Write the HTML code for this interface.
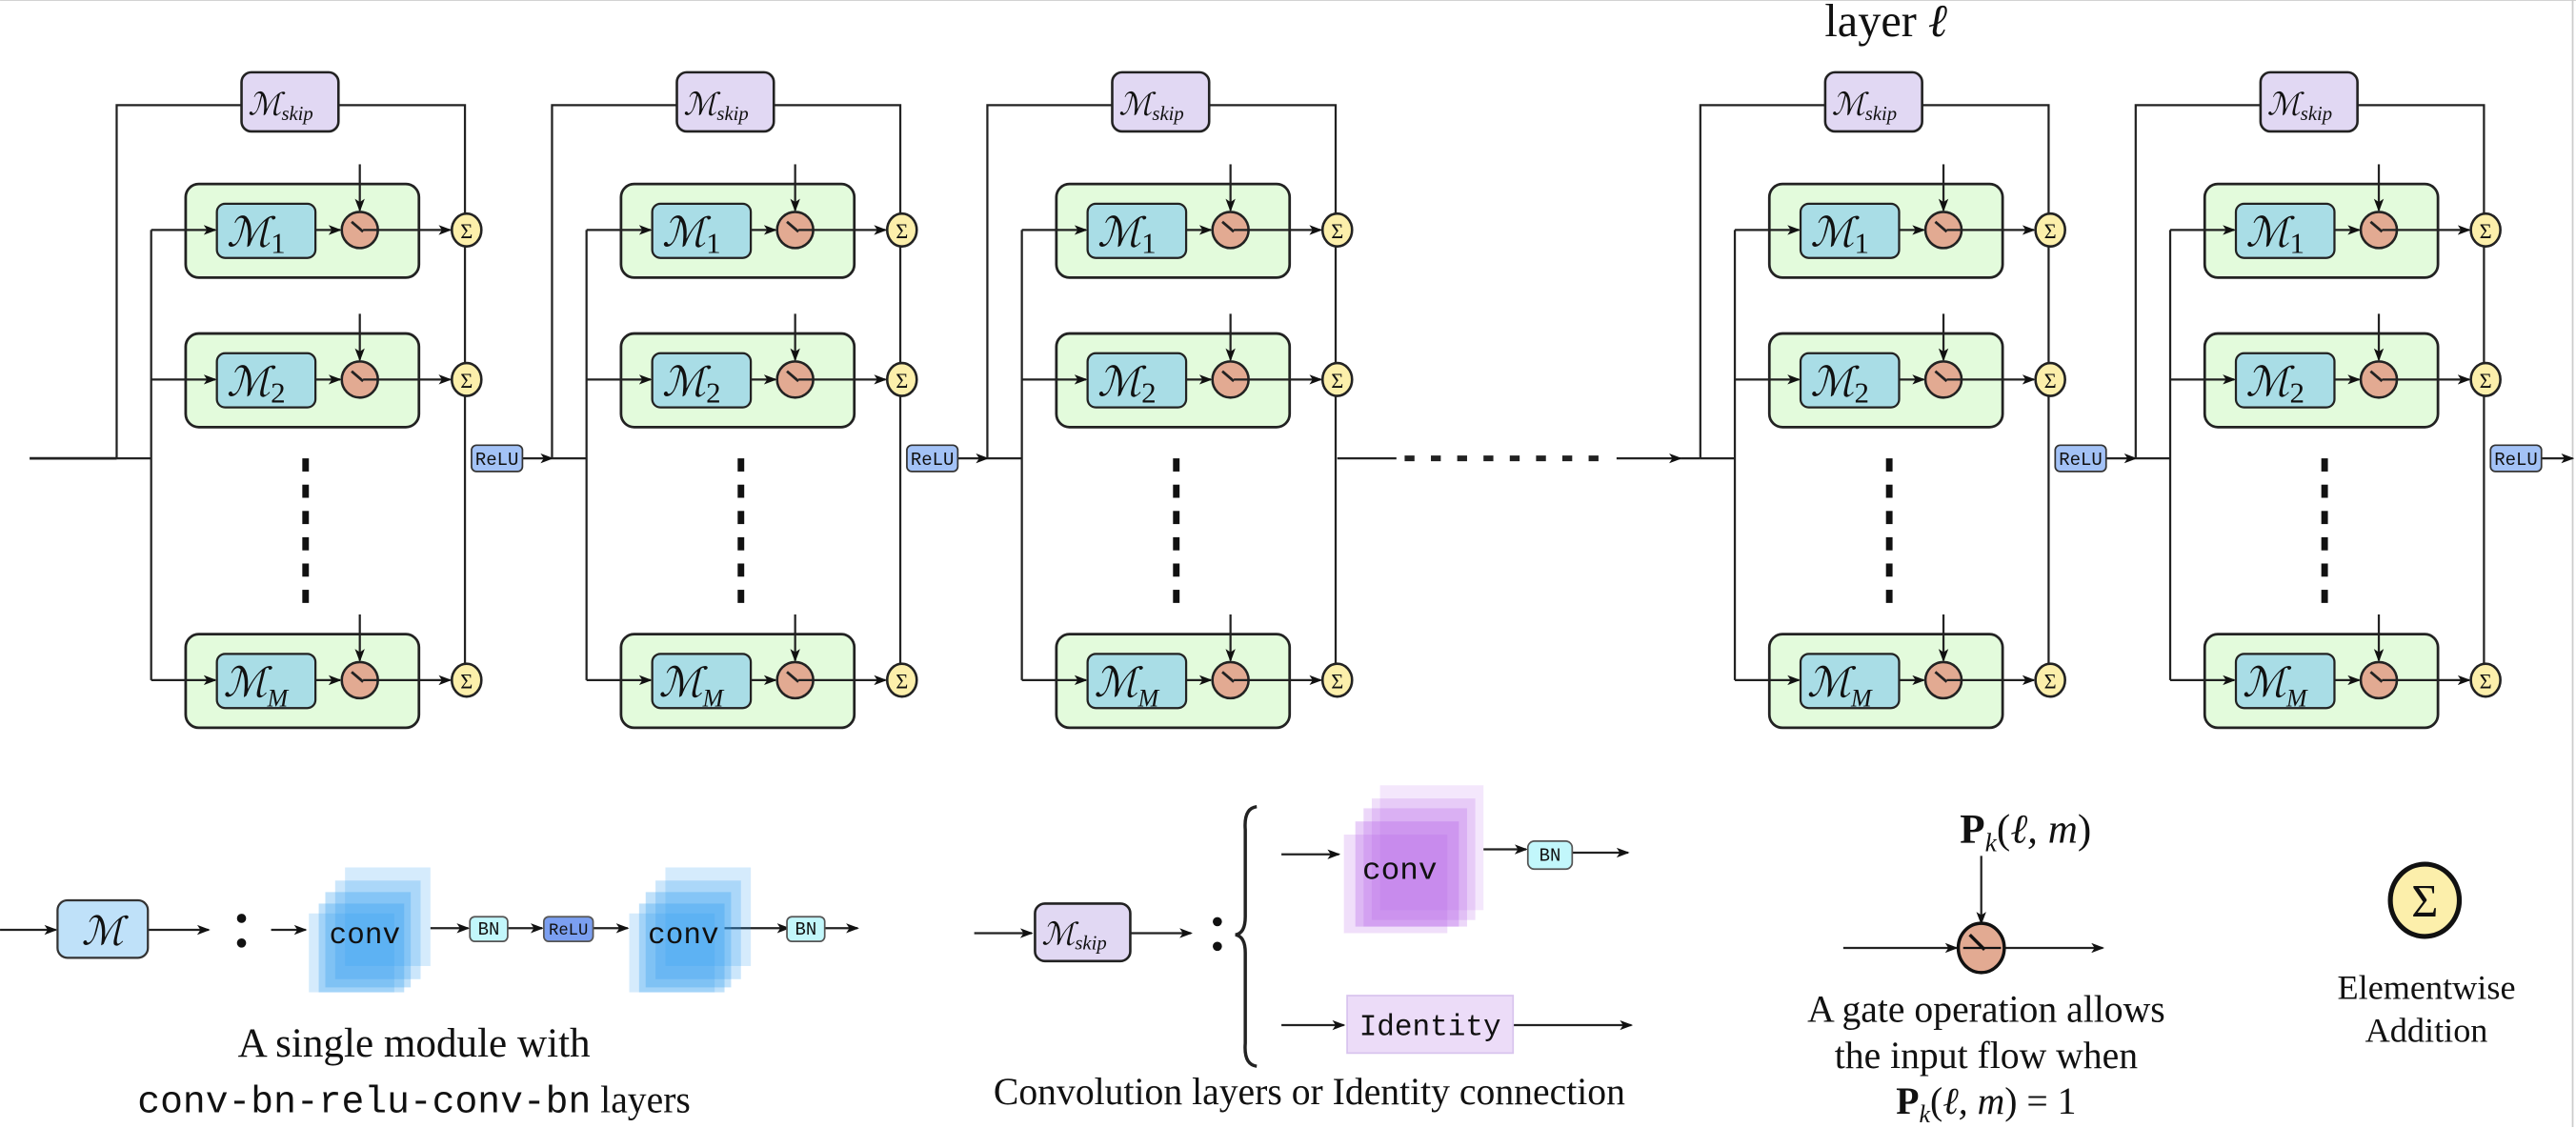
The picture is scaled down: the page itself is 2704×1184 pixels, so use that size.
<!DOCTYPE html>
<html><head><meta charset="utf-8"><style>
html,body{margin:0;padding:0;background:#fff;}
svg{display:block;}
text{font-family:"Liberation Serif","DejaVu Serif",serif;fill:#111;}
.mono{font-family:"Liberation Mono","DejaVu Sans Mono",monospace;}
.m{font-family:"DejaVu Serif","Liberation Serif",serif;font-style:italic;}
</style></head><body>
<svg width="2704" height="1184" viewBox="0 0 1568 686.6" xmlns="http://www.w3.org/2000/svg">
<defs>
<marker id="a" markerWidth="8" markerHeight="8" refX="7" refY="4" orient="auto" markerUnits="userSpaceOnUse">
<path d="M0,1 L8,4 L0,7 L2,4 z" fill="#111"/></marker>
<g id="blk" stroke="#222" stroke-width="1.3" fill="none">
 <polyline points="71,279 71,64 147,64"/>
 <polyline points="206,64 283,64 283,414"/>
 <rect x="147" y="44" width="59" height="36" rx="6" fill="#e1d8f3" stroke-width="1.5"/>
 <line x1="92" y1="140" x2="92" y2="414"/>
 <line x1="71" y1="279" x2="92" y2="279"/>
 <g id="row">
  <rect x="113" y="112" width="142" height="57" rx="8" fill="#e3fbdc" stroke-width="1.6"/>
  <line x1="92" y1="140" x2="131" y2="140" marker-end="url(#a)"/>
  <rect x="132" y="124" width="60" height="33" rx="5" fill="#a9dde6" stroke-width="1.3"/>
  <line x1="192" y1="140" x2="207" y2="140" marker-end="url(#a)"/>
  <line x1="219" y1="100" x2="219" y2="128" marker-end="url(#a)"/>
  <circle cx="219" cy="140" r="11" fill="#e2aa92" stroke-width="1.5"/>
  <line x1="214" y1="135" x2="221" y2="141" stroke-width="1.6"/>
  <line x1="221" y1="140" x2="274" y2="140" marker-end="url(#a)"/>
  <ellipse cx="284" cy="140" rx="9" ry="10" fill="#fcefab" stroke-width="1.5"/>
 </g>
 <use href="#row" y="91"/>
 <use href="#row" y="274"/>
 <g fill="#111" stroke="none">
  <rect x="184" y="279" width="4" height="8"/><rect x="184" y="295" width="4" height="8"/>
  <rect x="184" y="311" width="4" height="8"/><rect x="184" y="327" width="4" height="8"/>
  <rect x="184" y="343" width="4" height="8"/><rect x="184" y="359" width="4" height="8"/>
 </g>
 <g stroke="none">
 <text class="m" x="151" y="70" font-size="19">ℳ<tspan font-size="12" dy="3" font-family="Liberation Serif">skip</tspan></text>
 <text class="m" x="138" y="150" font-size="25">ℳ<tspan font-size="18" dy="4" font-style="normal" font-family="Liberation Serif">1</tspan></text>
 <text class="m" x="138" y="241" font-size="25">ℳ<tspan font-size="18" dy="4" font-style="normal" font-family="Liberation Serif">2</tspan></text>
 <text class="m" x="136" y="424" font-size="25">ℳ<tspan font-size="15" dy="6" font-family="Liberation Serif">M</tspan></text>
 <text x="284" y="145" font-size="13" text-anchor="middle">Σ</text>
 <text x="284" y="236" font-size="13" text-anchor="middle">Σ</text>
 <text x="284" y="419" font-size="13" text-anchor="middle">Σ</text>
 </g>
</g>
<g id="relu">
 <rect x="287" y="271" width="31" height="16" rx="3" fill="#a3c2f6" stroke="#333" stroke-width="1"/>
 <text class="mono" x="302.5" y="283" font-size="11" text-anchor="middle">ReLU</text>
</g>
</defs>

<line x1="0" y1="0" x2="1568" y2="0" stroke="#ccc"/>
<line x1="1566" y1="0" x2="1566" y2="686" stroke="#ccc"/>
<g stroke="#222" stroke-width="1.3" fill="none">
 <line x1="18" y1="279" x2="71" y2="279" stroke-width="1.6"/>
 <line x1="318" y1="279" x2="336" y2="279" marker-end="url(#a)"/>
 <line x1="583" y1="279" x2="601" y2="279" marker-end="url(#a)"/>
 <line x1="814" y1="279" x2="850" y2="279"/>
 <line x1="855" y1="279" x2="980" y2="279" stroke-width="3.5" stroke-dasharray="6,10"/>
 <line x1="984" y1="279" x2="1023" y2="279" marker-end="url(#a)"/>
 <line x1="1023" y1="279" x2="1035" y2="279"/>
 <line x1="1282" y1="279" x2="1300" y2="279" marker-end="url(#a)"/>
 <line x1="1547" y1="279" x2="1566" y2="279" marker-end="url(#a)"/>
</g>
<use href="#blk"/>
<use href="#blk" x="265"/>
<use href="#blk" x="530"/>
<use href="#blk" x="964"/>
<use href="#blk" x="1229"/>
<use href="#relu"/>
<use href="#relu" x="265"/>
<use href="#relu" x="964"/>
<use href="#relu" x="1229"/>
<text x="1148" y="22" font-size="28" text-anchor="middle">layer <tspan font-style="italic">ℓ</tspan></text>

<g stroke="#222" stroke-width="1.3" fill="none">
 <line x1="0" y1="566" x2="34" y2="566" marker-end="url(#a)"/>
 <line x1="90" y1="566" x2="127" y2="566" marker-end="url(#a)"/>
 <line x1="165" y1="566" x2="186" y2="566" marker-end="url(#a)"/>
 <line x1="262" y1="565" x2="285" y2="565" marker-end="url(#a)"/>
 <line x1="309" y1="565" x2="330" y2="565" marker-end="url(#a)"/>
 <line x1="361" y1="565" x2="382" y2="565" marker-end="url(#a)"/>
 <line x1="441" y1="565" x2="480" y2="565" marker-end="url(#a)"/>
 <line x1="502" y1="565" x2="522" y2="565" marker-end="url(#a)"/>
</g>
<rect x="35" y="548" width="55" height="35" rx="6" fill="#bfe1f9" stroke="#333" stroke-width="1.3"/>
<text class="m" x="62.5" y="575" font-size="24" text-anchor="middle">ℳ</text>
<circle cx="147" cy="559" r="2.8" fill="#111"/><circle cx="147" cy="574" r="2.8" fill="#111"/>
<g fill="#2e9cf0">
 <rect x="210" y="528" width="52" height="60" opacity="0.2"/>
 <rect x="204" y="536" width="52" height="60" opacity="0.25"/>
 <rect x="198" y="543" width="52" height="58" opacity="0.3"/>
 <rect x="194" y="550" width="52" height="54" opacity="0.3"/>
 <rect x="188" y="556" width="52" height="48" opacity="0.2"/>
 <rect x="405" y="528" width="52" height="60" opacity="0.2"/>
 <rect x="399" y="536" width="52" height="60" opacity="0.25"/>
 <rect x="393" y="543" width="52" height="58" opacity="0.3"/>
 <rect x="389" y="550" width="52" height="54" opacity="0.3"/>
 <rect x="383" y="556" width="52" height="48" opacity="0.2"/>
</g>
<text class="mono" x="222" y="574" font-size="18" text-anchor="middle">conv</text>
<text class="mono" x="416" y="574" font-size="18" text-anchor="middle">conv</text>
<rect x="286" y="558" width="23" height="15" rx="3" fill="#c2f7fb" stroke="#555"/>
<text class="mono" x="297.5" y="569" font-size="11" text-anchor="middle">BN</text>
<rect x="331" y="558" width="30" height="15" rx="3" fill="#7b9ff0" stroke="#555"/>
<text class="mono" x="346" y="569" font-size="10" text-anchor="middle">ReLU</text>
<rect x="479" y="558" width="23" height="15" rx="3" fill="#c2f7fb" stroke="#555"/>
<text class="mono" x="490.5" y="569" font-size="11" text-anchor="middle">BN</text>
<text x="252" y="643" font-size="25" text-anchor="middle">A single module with</text>
<text x="252" y="677" font-size="23" text-anchor="middle"><tspan class="mono">conv-bn-relu-conv-bn</tspan> layers</text>

<g stroke="#222" stroke-width="1.3" fill="none">
 <line x1="593" y1="568" x2="628" y2="568" marker-end="url(#a)"/>
 <line x1="688" y1="568" x2="725" y2="568" marker-end="url(#a)"/>
 <line x1="780" y1="520" x2="815" y2="520" marker-end="url(#a)"/>
 <line x1="903" y1="517" x2="929" y2="517" marker-end="url(#a)"/>
 <line x1="957" y1="519" x2="991" y2="519" marker-end="url(#a)"/>
 <line x1="780" y1="624" x2="818" y2="624" marker-end="url(#a)"/>
 <line x1="921" y1="624" x2="993" y2="624" marker-end="url(#a)"/>
 <path d="M765,491 Q757,492 758,505 L758,558 Q758,568 752,569 Q758,570 758,580 L758,635 Q757,648 765,649" stroke-width="2"/>
</g>
<rect x="630" y="550" width="58" height="35" rx="6" fill="#e1d8f3" stroke="#222" stroke-width="1.5"/>
<text class="m" x="634" y="575" font-size="19">ℳ<tspan font-size="12" dy="3" font-family="Liberation Serif">skip</tspan></text>
<circle cx="741" cy="561" r="2.8" fill="#111"/><circle cx="741" cy="576" r="2.8" fill="#111"/>
<g fill="#b35ee8">
 <rect x="840" y="478" width="63" height="76" opacity="0.15"/>
 <rect x="835" y="486" width="63" height="74" opacity="0.2"/>
 <rect x="830" y="492" width="63" height="72" opacity="0.25"/>
 <rect x="825" y="500" width="63" height="64" opacity="0.3"/>
 <rect x="818" y="508" width="63" height="60" opacity="0.2"/>
</g>
<text class="mono" x="852" y="535" font-size="19" text-anchor="middle">conv</text>
<rect x="930" y="512" width="27" height="17" rx="4" fill="#c2f7fb" stroke="#555"/>
<text class="mono" x="943.5" y="524" font-size="11" text-anchor="middle">BN</text>
<rect x="820" y="606" width="101" height="35" fill="#ecdcf8" stroke="#d8c4ee"/>
<text class="mono" x="870.5" y="630" font-size="18" text-anchor="middle">Identity</text>
<text x="797" y="672" font-size="23" text-anchor="middle">Convolution layers or Identity connection</text>

<text x="1233" y="513" font-size="25" text-anchor="middle"><tspan font-weight="bold">P</tspan><tspan font-size="16" font-style="italic" dy="5">k</tspan><tspan dy="-5">(</tspan><tspan font-style="italic">ℓ, m</tspan>)</text>
<g stroke="#222" stroke-width="1.3" fill="none">
 <line x1="1206" y1="521" x2="1206" y2="562" marker-end="url(#a)"/>
 <line x1="1122" y1="577" x2="1191" y2="577" marker-end="url(#a)"/>
 <line x1="1208" y1="577" x2="1280" y2="577" marker-end="url(#a)"/>
</g>
<ellipse cx="1206" cy="577" rx="14" ry="15" fill="#e2aa92" stroke="#111" stroke-width="2"/>
<line x1="1199" y1="569" x2="1208" y2="578" stroke="#111" stroke-width="2"/>
<line x1="1195" y1="577" x2="1218" y2="577" stroke="#111" stroke-width="1.3"/>
<text x="1209" y="622" font-size="23" text-anchor="middle">A gate operation allows</text>
<text x="1209" y="650" font-size="23" text-anchor="middle">the input flow when</text>
<text x="1209" y="678" font-size="23" text-anchor="middle"><tspan font-weight="bold">P</tspan><tspan font-size="15" font-style="italic" dy="5">k</tspan><tspan dy="-5">(</tspan><tspan font-style="italic">ℓ, m</tspan>) = 1</text>

<ellipse cx="1476" cy="548" rx="21" ry="22" fill="#fcefab" stroke="#111" stroke-width="3"/>
<text x="1476" y="558" font-size="28" text-anchor="middle">Σ</text>
<text x="1477" y="608" font-size="21" text-anchor="middle">Elementwise</text>
<text x="1477" y="634" font-size="21" text-anchor="middle">Addition</text>
</svg>
</body></html>
